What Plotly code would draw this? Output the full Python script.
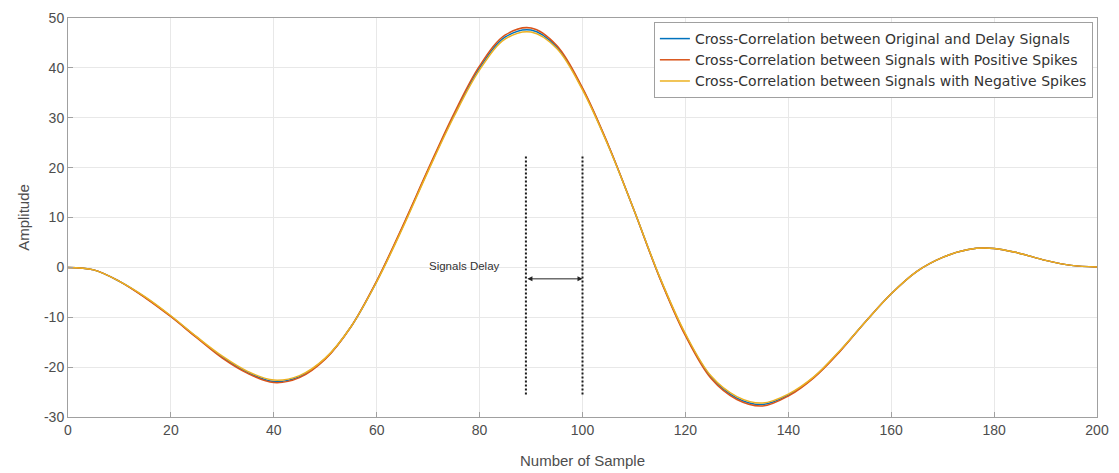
import plotly.graph_objects as go

# ---------------- data ----------------
samples = list(range(0, 201, 5))

xcorr_original = [0.0, -0.5, -2.8, -6.0, -9.8, -14.0, -18.0, -21.1, -22.9, -21.9,
                  -18.3, -11.9, -2.8, 8.0, 19.5, 30.5, 40.0, 46.2, 47.6, 44.2,
                  35.8, 24.5, 11.5, -2.0, -13.5, -22.0, -26.2, -27.5, -25.6, -22.0,
                  -16.8, -10.9, -5.3, -0.8, 2.0, 3.6, 3.8, 2.8, 1.4, 0.4, 0.1]

xcorr_positive = [0.0, -0.5, -2.8, -6.1, -9.9, -14.1, -18.2, -21.3, -23.1, -22.1,
                  -18.4, -11.9, -2.7, 8.2, 19.7, 30.8, 40.4, 46.6, 48.0, 44.5,
                  36.0, 24.6, 11.5, -2.1, -13.7, -22.3, -26.5, -27.8, -25.8, -22.1,
                  -16.9, -10.9, -5.3, -0.8, 2.0, 3.6, 3.8, 2.8, 1.4, 0.4, 0.1]

xcorr_negative = [0.0, -0.5, -2.8, -5.9, -9.7, -13.9, -17.8, -20.9, -22.6, -21.7,
                  -18.2, -11.9, -2.9, 7.8, 19.3, 30.2, 39.6, 45.8, 47.2, 43.9,
                  35.6, 24.4, 11.5, -1.9, -13.3, -21.8, -25.9, -27.2, -25.4, -21.9,
                  -16.7, -10.9, -5.3, -0.8, 2.0, 3.6, 3.8, 2.8, 1.4, 0.4, 0.1]

series_names = ["Cross-Correlation between Original and Delay Signals",
                "Cross-Correlation between Signals with Positive Spikes",
                "Cross-Correlation between Signals with Negative Spikes"]

delay_marks = [89, 100]
delay_span = [-25.5, 22.5]
arrow_level = -2.3
delay_label = "Signals Delay"
delay_label_pos = [77, 0.2]

x_ticks = list(range(0, 201, 20))
y_ticks = list(range(-30, 51, 10))
y_tick_labels = [str(v) for v in y_ticks]

# ---------------- figure ----------------
colors = ["#0072BD", "#D95319", "#EDB120"]
fig = go.Figure()
for name, vals, col in zip(series_names, [xcorr_original, xcorr_positive, xcorr_negative], colors):
    fig.add_trace(go.Scatter(x=samples, y=vals, mode="lines", name=name,
                             line=dict(color=col, width=1.5, shape="spline", smoothing=1.0)))

for xm in delay_marks:
    fig.add_trace(go.Scatter(x=[xm, xm], y=delay_span, mode="lines", showlegend=False,
                             hoverinfo="skip",
                             line=dict(color="#1a1a1a", width=2, dash="2px,2px")))

fig.add_annotation(x=delay_marks[1], y=arrow_level, ax=delay_marks[0], ay=arrow_level,
                   xref="x", yref="y", axref="x", ayref="y", text="",
                   showarrow=True, arrowhead=2, startarrowhead=2, arrowside="end+start",
                   arrowsize=1, arrowwidth=1, arrowcolor="#222222")
fig.add_annotation(x=delay_label_pos[0], y=delay_label_pos[1], xref="x", yref="y",
                   text=delay_label, showarrow=False,
                   font=dict(size=11.5, color="#333333", family="Liberation Sans, Arial"))

axis_common = dict(showline=True, linecolor="#a0a0a0", linewidth=1, mirror=True,
                   ticks="inside", ticklen=5, tickcolor="#a0a0a0",
                   showgrid=True, gridcolor="#e8e8e8", gridwidth=1, zeroline=False,
                   automargin=False,
                   tickfont=dict(size=14, color="#4d4d4d", family="Liberation Sans, Arial"))

fig.update_xaxes(range=[0, 200], tickvals=x_ticks,
                 title=dict(text="Number of Sample", standoff=18,
                            font=dict(size=15, color="#4d4d4d", family="Liberation Sans, Arial")),
                 **axis_common)
fig.update_yaxes(range=[-30, 50], tickvals=y_ticks, ticktext=y_tick_labels,
                 title=dict(text="Amplitude", standoff=10,
                            font=dict(size=15, color="#4d4d4d", family="Liberation Sans, Arial")),
                 **axis_common)

fig.update_layout(
    width=1119, height=473,
    margin=dict(l=68, r=22, t=18, b=56),
    paper_bgcolor="white", plot_bgcolor="white",
    showlegend=True,
    legend=dict(x=0.996, y=0.99, xanchor="right", yanchor="top",
                bgcolor="white", bordercolor="#a0a0a0", borderwidth=1,
                itemwidth=30, tracegroupgap=0,
                font=dict(size=14, color="#333333", family="DejaVu Sans, Liberation Sans")),
    font=dict(family="Liberation Sans, Arial"),
)

fig.write_html("out.html")
